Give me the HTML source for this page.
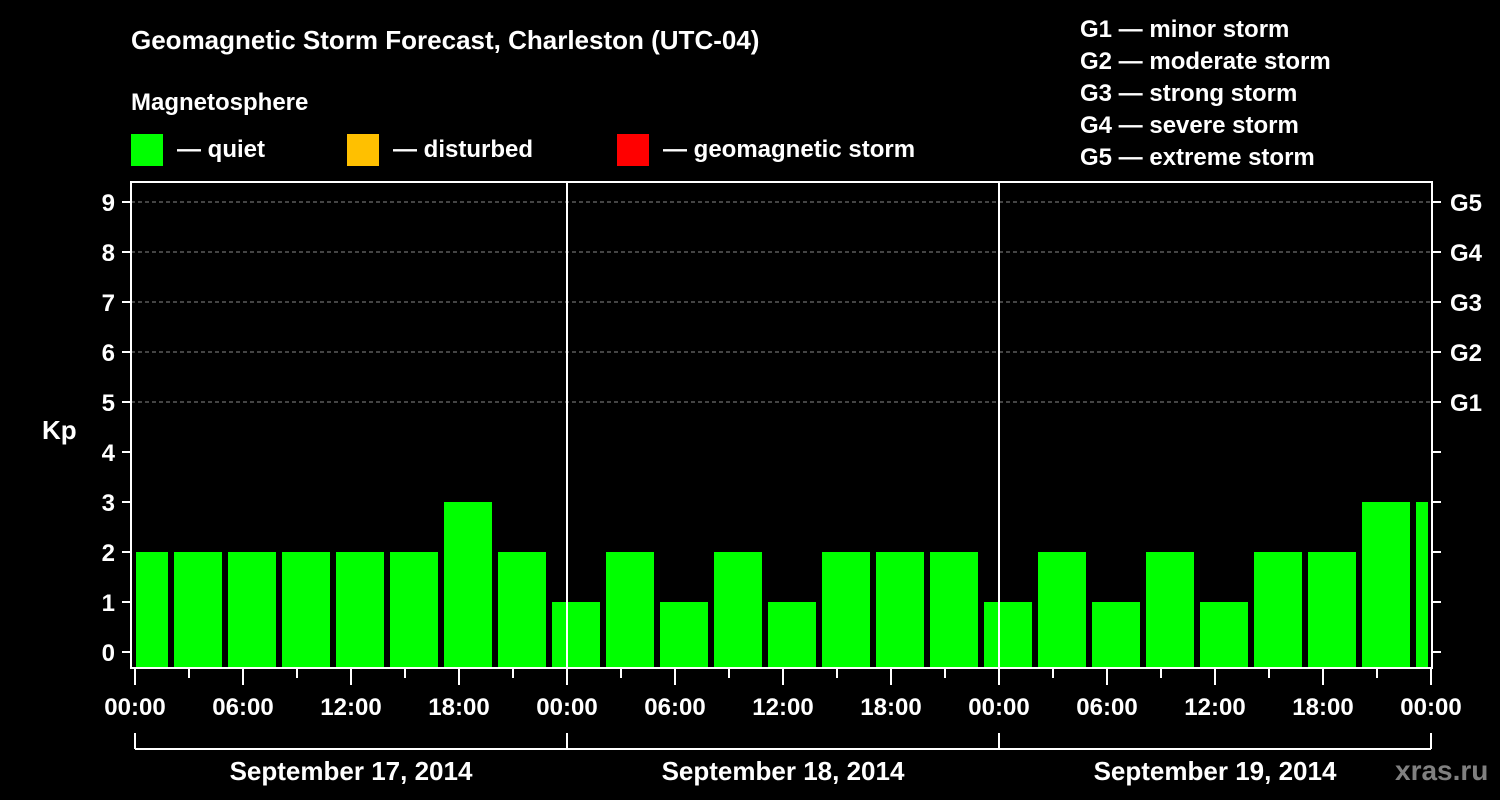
<!DOCTYPE html>
<html><head><meta charset="utf-8"><style>
body{margin:0;background:#000;}
svg{display:block;font-family:"Liberation Sans",sans-serif;font-weight:bold;}
</style></head><body>
<svg id="chart" width="1500" height="800" viewBox="0 0 1500 800">
<rect width="1500" height="800" fill="#000"/>
<text x="131" y="49" fill="#fff" font-size="26">Geomagnetic Storm Forecast, Charleston (UTC-04)</text>
<text x="131" y="110" fill="#fff" font-size="24">Magnetosphere</text>
<g><rect x="131" y="134" width="32" height="32" fill="#00ff00"/><text x="177" y="157" fill="#fff" font-size="24">— quiet</text></g>
<g><rect x="347" y="134" width="32" height="32" fill="#ffc000"/><text x="393" y="157" fill="#fff" font-size="24">— disturbed</text></g>
<g><rect x="617" y="134" width="32" height="32" fill="#ff0000"/><text x="663" y="157" fill="#fff" font-size="24">— geomagnetic storm</text></g>
<g fill="#fff" font-size="24">
<text x="1080" y="37">G1 — minor storm</text>
<text x="1080" y="69">G2 — moderate storm</text>
<text x="1080" y="101">G3 — strong storm</text>
<text x="1080" y="133">G4 — severe storm</text>
<text x="1080" y="165">G5 — extreme storm</text>
</g>
<text x="42" y="439" fill="#fff" font-size="26">Kp</text>
<g id="grid"></g><g id="bars"></g><g id="axes"></g>
<text x="1395" y="780" fill="#808080" font-size="28">xras.ru</text>
</svg>
<script>
const dayLabels = ["September 17, 2014","September 18, 2014","September 19, 2014"];
const kpValues = [2,2,2,2,2,2,3,2,1,2,1,2,1,2,2,2,1,2,1,2,1,2,2,3,3];
const hourLabels = ["00:00","06:00","12:00","18:00"];
const gLabels = ["G1","G2","G3","G4","G5"];
const NS="http://www.w3.org/2000/svg";
const X0=135, PX_H=18, Y0=652, PX_K=50, LEFT=131, RIGHT=1432, TOP=182, BOT=668;
const xs=h=>X0+h*PX_H, ys=k=>Y0-k*PX_K;
function mk(p,tag,a){const e=document.createElementNS(NS,tag);for(const k in a)e.setAttribute(k,a[k]);p.appendChild(e);return e;}
const grid=document.getElementById('grid'),bars=document.getElementById('bars'),axes=document.getElementById('axes');
for(let k=5;k<=9;k++){const l=mk(grid,'line',{x1:LEFT,x2:RIGHT,y1:ys(k),y2:ys(k),stroke:'#888','stroke-dasharray':'4,3','stroke-width':1});

}
const total=dayLabels.length*24;
kpValues.forEach((v,i)=>{let s=-1+i*3, e=s+3;
let x1=Math.max(xs(s)+3,X0+1), x2=Math.min(xs(e)-3,xs(total)-3);
const r=mk(bars,'rect',{x:x1,y:ys(v),width:x2-x1,height:BOT-ys(v),fill:v>=5?'#ff0000':(v>=4?'#ffc000':'#00ff00')});

});
const W={stroke:'#fff','stroke-width':2};
const frame=mk(axes,'path',Object.assign({d:`M${LEFT},${TOP}H${RIGHT}V${BOT}H${LEFT}Z`,fill:'none'},W));


for(let k=0;k<=9;k++){
 mk(axes,'line',Object.assign({x1:122,x2:LEFT,y1:ys(k),y2:ys(k)},W));
 mk(axes,'line',Object.assign({x1:RIGHT,x2:1441,y1:ys(k),y2:ys(k)},W));
 const t=mk(axes,'text',{x:115,y:ys(k)+9,fill:'#fff','font-size':24,'text-anchor':'end'});t.textContent=k;
 
 
 if(k>=5){const g=mk(axes,'text',{x:1450,y:ys(k)+9,fill:'#fff','font-size':24});g.textContent=gLabels[k-5];
 
 }
}
for(let d=0;d<=dayLabels.length;d++){
 if(d>0&&d<dayLabels.length)mk(axes,'line',Object.assign({x1:xs(d*24),x2:xs(d*24),y1:TOP,y2:BOT},W));
 mk(axes,'line',Object.assign({x1:xs(d*24),x2:xs(d*24),y1:733,y2:749},W));
}
mk(axes,'line',Object.assign({x1:xs(0),x2:xs(total),y1:749,y2:749},W));
for(let h=0;h<=total;h+=3){const major=h%6==0;
 mk(axes,'line',Object.assign({x1:xs(h),x2:xs(h),y1:BOT,y2:major?685:678},W));
 if(major){const t=mk(axes,'text',{x:xs(h),y:715,fill:'#fff','font-size':24,'text-anchor':'middle'});
 t.textContent=hourLabels[(h%24)/6];
 
 }}
dayLabels.forEach((s,d)=>{const t=mk(axes,'text',{x:xs(d*24+12),y:780,fill:'#fff','font-size':26,'text-anchor':'middle'});t.textContent=s;

});
</script>
</body></html>
